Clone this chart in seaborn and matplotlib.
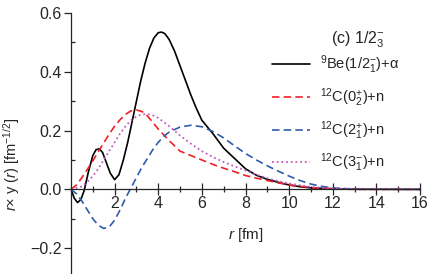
import numpy as np
import pandas as pd
import seaborn as sns
import matplotlib
matplotlib.use("Agg")
import matplotlib.pyplot as plt
from matplotlib.ticker import MultipleLocator

# values
r_be = [0, 0.15, 0.3, 0.45, 0.6, 0.8, 1.0, 1.15, 1.3, 1.45, 1.6, 1.8, 2.0, 2.2, 2.4, 2.6, 2.8,
        3.0, 3.2, 3.4, 3.6, 3.8, 4.0, 4.15, 4.3, 4.5, 4.75, 5.0, 5.25, 5.5, 5.75, 6.0, 6.5,
        7.0, 7.5, 8.0, 8.5, 9.0, 9.5, 10, 10.5, 11, 12, 13, 16]
y_be = [0, -0.03, -0.045, -0.035, -0.005, 0.06, 0.115, 0.135, 0.138, 0.125, 0.095, 0.055, 0.033,
        0.05, 0.10, 0.16, 0.23, 0.30, 0.37, 0.43, 0.48, 0.515, 0.533, 0.535, 0.53, 0.51, 0.47,
        0.42, 0.37, 0.32, 0.275, 0.235, 0.19, 0.14, 0.105, 0.07, 0.048, 0.034, 0.024, 0.015,
        0.009, 0.005, 0.002, 0.0005, 0]

r_c0 = [0, 0.25, 0.5, 0.75, 1.0, 1.25, 1.5, 1.75, 2.0, 2.25, 2.5, 2.75, 3.0, 3.25, 3.5, 3.75,
        4.0, 4.5, 5.0, 5.5, 6.0, 6.5, 7.0, 7.5, 8.0, 8.5, 9.0, 9.5, 10, 11, 12, 13, 16]
y_c0 = [0, 0.015, 0.04, 0.068, 0.097, 0.128, 0.158, 0.188, 0.215, 0.237, 0.255, 0.267, 0.27,
        0.265, 0.25, 0.228, 0.205, 0.166, 0.13, 0.115, 0.1, 0.085, 0.072, 0.06, 0.047, 0.038,
        0.03, 0.022, 0.015, 0.006, 0.002, 0, 0]

r_c2 = [0, 0.25, 0.5, 0.75, 1.0, 1.25, 1.5, 1.75, 2.0, 2.25, 2.5, 2.75, 3.0, 3.25, 3.5, 3.75,
        4.0, 4.25, 4.5, 5.0, 5.5, 6.0, 6.5, 7.0, 7.5, 8.0, 8.5, 9.0, 9.5, 10, 10.5, 11, 11.5,
        12, 13, 16]
y_c2 = [0, -0.015, -0.04, -0.07, -0.1, -0.122, -0.133, -0.128, -0.105, -0.07, -0.03, 0.005,
        0.04, 0.075, 0.105, 0.135, 0.16, 0.18, 0.195, 0.212, 0.218, 0.213, 0.197, 0.175, 0.148,
        0.122, 0.1, 0.08, 0.062, 0.045, 0.03, 0.018, 0.01, 0.005, 0.001, 0]

r_c3 = [0, 0.5, 0.75, 1.0, 1.25, 1.5, 1.75, 2.0, 2.25, 2.5, 2.75, 3.0, 3.25, 3.5, 3.75, 4.0,
        4.5, 5.0, 5.5, 6.0, 6.5, 7.0, 7.5, 8.0, 8.5, 9.0, 9.5, 10, 11, 12, 13, 16]
y_c3 = [0, 0.01, 0.025, 0.045, 0.07, 0.1, 0.13, 0.16, 0.19, 0.215, 0.235, 0.248, 0.255, 0.256,
        0.252, 0.243, 0.215, 0.183, 0.155, 0.13, 0.11, 0.093, 0.078, 0.064, 0.05, 0.038, 0.028,
        0.02, 0.008, 0.003, 0, 0]

labels = [r"$^{9}$Be(1/2$_1^{-}$)+α", r"$^{12}$C(0$_2^{+}$)+n",
          r"$^{12}$C(2$_1^{+}$)+n", r"$^{12}$C(3$_1^{-}$)+n"]

sns.set_style("ticks")
plt.rcParams['font.family'] = ['Liberation Sans', 'DejaVu Sans']
plt.rcParams['mathtext.fontset'] = 'custom'
plt.rcParams['mathtext.rm'] = 'Liberation Sans'
plt.rcParams['mathtext.it'] = 'Liberation Sans:italic'

fig = plt.figure(figsize=(4.42, 2.74), dpi=100)
ax = fig.add_axes([71/442, 0, 349/442, 261/274])

sns.lineplot(x=r_be, y=y_be, color="black", lw=1.2, label=labels[0], ax=ax)
sns.lineplot(x=r_c0, y=y_c0, color="#ee2026", lw=1.2, linestyle=(0, (4.5, 2.5)), label=labels[1], ax=ax)
sns.lineplot(x=r_c2, y=y_c2, color="#2f5bab", lw=1.2, linestyle=(0, (4.5, 2.5)), label=labels[2], ax=ax)
sns.lineplot(x=r_c3, y=y_c3, color="#c15cbf", lw=1.3, linestyle=(0, (1, 1.6)), label=labels[3], ax=ax)

ax.set_xlim(0, 16)
ax.set_ylim(-0.288, 0.6)
ax.spines['right'].set_visible(False)
ax.spines['top'].set_visible(False)
ax.spines['bottom'].set_position(('data', 0))
ax.spines['left'].set_linewidth(0.9)
ax.spines['bottom'].set_linewidth(0.9)

ax.xaxis.set_minor_locator(MultipleLocator(1))
ax.yaxis.set_minor_locator(MultipleLocator(0.1))
ax.set_xticks([2, 4, 6, 8, 10, 12, 14, 16])
ax.set_yticks([-0.2, 0.0, 0.2, 0.4, 0.6])
ax.set_yticklabels(["\u22120.2", "0.0", "0.2", "0.4", "0.6"])
ax.tick_params(axis='x', which='major', direction='inout', length=8, width=0.9, labelsize=11.5, pad=1)
ax.tick_params(axis='x', which='minor', direction='inout', length=5, width=0.9)
ax.tick_params(axis='y', which='major', direction='out', length=5, width=0.9, labelsize=11.5, pad=2)
ax.tick_params(axis='y', which='minor', direction='in', length=3, width=0.9)

ax.set_xlabel(r"$\it{r}$ [fm]", fontsize=11)
ax.xaxis.set_label_coords(0.5, 0.184)
ax.set_ylabel(r"$\it{r}$$\times$ y ($\it{r}$) [fm$^{-1/2}$]", fontsize=10.5)
ax.yaxis.set_label_coords(-0.14, 0.42)

ax.text(0.745, 0.885, r"(c) 1/2$_3^{-}$", transform=ax.transAxes, fontsize=11.5)
ax.legend(loc='upper left', bbox_to_anchor=(0.577, 0.845), frameon=False, fontsize=10.5,
          handlelength=2.55, handletextpad=0.7, labelspacing=0.7, borderaxespad=0, borderpad=0)

fig.savefig("out.png", dpi=100)
